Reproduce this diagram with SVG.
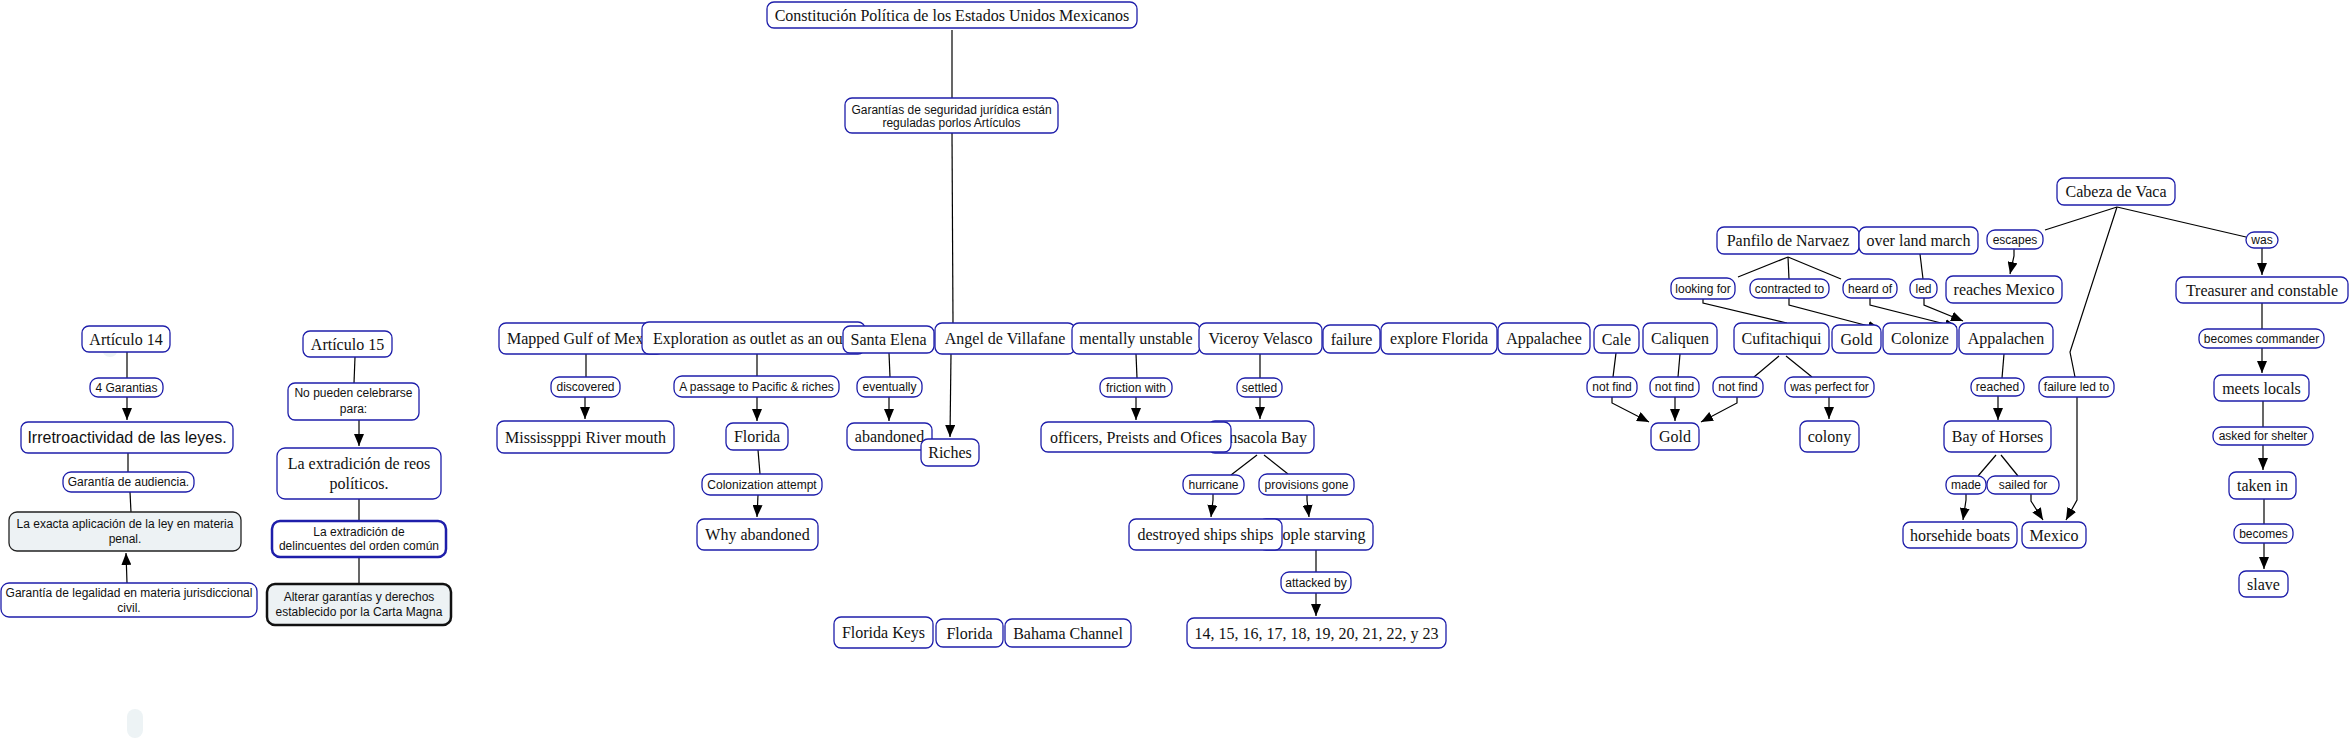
<svg xmlns="http://www.w3.org/2000/svg" width="2351" height="740" viewBox="0 0 2351 740">
<defs>
<marker id="ah" viewBox="0 0 12 10" refX="12" refY="5" markerWidth="12" markerHeight="10" markerUnits="userSpaceOnUse" orient="auto">
<path d="M0,0 L12,5 L0,10 z" fill="#000"/>
</marker>
<style>
.n rect{fill:#fff;stroke:#1e1eaa;stroke-width:1.3}
.l rect{fill:#fff;stroke:#1e1eaa;stroke-width:1.3}
.n text{font-family:"Liberation Serif","Times New Roman",serif;font-size:16px;fill:#111;text-anchor:middle}
.s text{font-family:"Liberation Sans",Arial,sans-serif;font-size:12px;fill:#111;text-anchor:middle}
.l text{font-family:"Liberation Sans",Arial,sans-serif;font-size:12px;fill:#111;text-anchor:middle}
.big text{font-size:16px}
.grey rect{fill:#edf2f4;stroke:#222}
.thickb rect{stroke-width:2.5}
.thickk rect{fill:#edf2f4;stroke:#111;stroke-width:2.5}
#connectors path{fill:none;stroke:#000;stroke-width:1.2}
#connectors path.a{marker-end:url(#ah)}
.faint{fill:#edf3f5;stroke:none}
</style>
</defs>
<rect width="2351" height="740" fill="#fff"/>

<g id="connectors">
<path d="M952,30 L952,98"/>
<path d="M952,133 L953,323"/>
<path class="a" d="M951,354 L950,437"/>
<path d="M127,352 L127,378"/>
<path class="a" d="M127,397 L127,420"/>
<path d="M128,453 L128,472"/>
<path d="M130,492 L131,512"/>
<path class="a" d="M127,583 L126,553"/>
<path d="M355,357 L354,383"/>
<path class="a" d="M359,420 L359,446"/>
<path d="M359,499 L359,521"/>
<path d="M359,557 L359,584"/>
<path d="M586,354 L586,377"/>
<path class="a" d="M585,397 L585,419"/>
<path d="M757,354 L757,376"/>
<path class="a" d="M757,397 L757,421"/>
<path d="M758,450 L760,474"/>
<path class="a" d="M758,495 L757,517"/>
<path d="M889,353 L890,377"/>
<path class="a" d="M889,397 L889,421"/>
<path d="M1136,354 L1137,378"/>
<path class="a" d="M1136,397 L1136,420"/>
<path d="M1260,354 L1260,378"/>
<path class="a" d="M1260,397 L1260,419"/>
<path d="M1257,455 L1231,475"/>
<path d="M1264,455 L1288,474"/>
<path class="a" d="M1213,494 L1213,500 L1211,517"/>
<path class="a" d="M1307,495 L1307,500 L1309,517"/>
<path d="M1316,550 L1316,572"/>
<path class="a" d="M1316,593 L1316,616"/>
<path d="M1616,353 L1613,377"/>
<path d="M1680,354 L1678,377"/>
<path d="M1779,356 L1754,377"/>
<path d="M1786,356 L1812,377"/>
<path class="a" d="M1612,397 L1612,403 L1649,422"/>
<path class="a" d="M1675,397 L1675,421"/>
<path class="a" d="M1737,397 L1737,403 L1701,422"/>
<path class="a" d="M1829,397 L1829,419"/>
<path d="M1788,257 L1738,277"/>
<path d="M1788,257 L1789,279"/>
<path d="M1788,257 L1841,279"/>
<path d="M1703,299 L1703,303 L1787,323"/>
<path class="a" d="M1789,298 L1789,305 L1880,329"/>
<path class="a" d="M1870,298 L1870,305 L1957,327"/>
<path class="a" d="M1924,298 L1924,305 L1963,321"/>
<path d="M1920,254 L1923,279"/>
<path d="M2004,354 L2002,378"/>
<path class="a" d="M1998,396 L1998,420"/>
<path d="M1996,455 L1978,476"/>
<path d="M2001,455 L2018,476"/>
<path class="a" d="M1966,494 L1966,500 L1963,520"/>
<path class="a" d="M2031,494 L2031,501 L2043,520"/>
<path class="a" d="M2077,397 L2077,500 L2066,520"/>
<path d="M2117,207 L2045,230"/>
<path d="M2117,207 L2070,352 L2075,377"/>
<path d="M2117,207 L2246,237"/>
<path class="a" d="M2014,249 L2014,256 L2010,274"/>
<path class="a" d="M2262,248 L2262,275"/>
<path d="M2262,303 L2262,329"/>
<path class="a" d="M2262,348 L2262,373"/>
<path d="M2263,401 L2263,427"/>
<path class="a" d="M2263,445 L2263,470"/>
<path d="M2264,499 L2264,524"/>
<path class="a" d="M2264,543 L2264,569"/>
</g>

<g id="faint-1"><circle class="faint" cx="110" cy="349" r="8"/></g>
<g id="faint-2"><rect class="faint" x="127" y="709" width="16" height="29" rx="8"/></g>

<g id="constitucion" class="n"><rect x="767" y="2" width="370" height="26" rx="7"/><text x="952" y="20.5">Constitución Política de los Estados Unidos Mexicanos</text></g>
<g id="garantias-seguridad" class="n s"><rect x="845" y="98" width="213" height="35" rx="7"/><text x="951.5" y="114">Garantías de seguridad jurídica están</text><text x="951.5" y="127">reguladas porlos Artículos</text></g>

<g id="articulo14" class="n"><rect x="82" y="326" width="88" height="26" rx="7"/><text x="126" y="344.5">Artículo 14</text></g>
<g id="l-4garantias" class="l"><rect x="90" y="378" width="73" height="19" rx="8"/><text x="126.5" y="391.8">4 Garantias</text></g>
<g id="irretroactividad" class="n s big"><rect x="21" y="422" width="212" height="31" rx="7"/><text x="127" y="443.2">Irretroactividad de las leyes.</text></g>
<g id="audiencia" class="l"><rect x="63" y="472" width="131" height="20" rx="8"/><text x="128.5" y="486.3">Garantía de audiencia.</text></g>
<g id="exacta" class="n s grey"><rect x="9" y="512" width="232" height="39" rx="8"/><text x="125" y="528">La exacta aplicación de la ley en materia</text><text x="125" y="543">penal.</text></g>
<g id="legalidad" class="n s"><rect x="1" y="583" width="256" height="34" rx="8"/><text x="129" y="597">Garantía de legalidad en materia jurisdiccional</text><text x="129" y="612">civil.</text></g>

<g id="articulo15" class="n"><rect x="303" y="331" width="89" height="26" rx="7"/><text x="347.5" y="349.5">Artículo 15</text></g>
<g id="no-pueden" class="n s"><rect x="288" y="383" width="131" height="37" rx="7"/><text x="353.5" y="397">No pueden celebrarse</text><text x="353.5" y="413">para:</text></g>
<g id="reos" class="n"><rect x="277" y="448" width="164" height="51" rx="8"/><text x="359" y="468.5">La extradición de reos</text><text x="359" y="488.5">políticos.</text></g>
<g id="delincuentes" class="n s thickb"><rect x="272" y="521" width="174" height="36" rx="8"/><text x="359" y="536">La extradición de</text><text x="359" y="550">delincuentes del orden común</text></g>
<g id="alterar" class="n s thickk"><rect x="267" y="584" width="184" height="41" rx="8"/><text x="359" y="601">Alterar garantías y derechos</text><text x="359" y="616">establecido por la Carta Magna</text></g>

<g id="mapped" class="n"><rect x="499" y="323" width="165" height="31" rx="7"/><text x="507" y="344" style="text-anchor:start">Mapped Gulf of Mex</text></g>
<g id="exploration" class="n"><rect x="642" y="322" width="223" height="32" rx="7"/><text x="653" y="344" style="text-anchor:start">Exploration as outlet as an out</text></g>
<g id="santa-elena" class="n"><rect x="843" y="326" width="91" height="27" rx="7"/><text x="888.5" y="345">Santa Elena</text></g>
<g id="angel" class="n"><rect x="935" y="323" width="140" height="31" rx="7"/><text x="1005" y="344">Angel de Villafane</text></g>
<g id="mentally" class="n"><rect x="1072" y="323" width="128" height="31" rx="7"/><text x="1136" y="344">mentally unstable</text></g>
<g id="viceroy" class="n"><rect x="1199" y="323" width="123" height="31" rx="7"/><text x="1260.5" y="344">Viceroy Velasco</text></g>
<g id="failure" class="n"><rect x="1323" y="325" width="57" height="28" rx="7"/><text x="1351.5" y="344.5">failure</text></g>
<g id="explore-florida" class="n"><rect x="1381" y="323" width="116" height="31" rx="7"/><text x="1439" y="344">explore Florida</text></g>
<g id="appalachee" class="n"><rect x="1498" y="323" width="92" height="31" rx="7"/><text x="1544" y="344">Appalachee</text></g>
<g id="cale" class="n"><rect x="1594" y="325" width="45" height="28" rx="7"/><text x="1616.5" y="344.5">Cale</text></g>
<g id="caliquen" class="n"><rect x="1643" y="323" width="74" height="31" rx="7"/><text x="1680" y="344">Caliquen</text></g>
<g id="cufitachiqui" class="n"><rect x="1734" y="323" width="95" height="31" rx="7"/><text x="1781.5" y="344">Cufitachiqui</text></g>
<g id="gold-top" class="n"><rect x="1832" y="325" width="49" height="28" rx="7"/><text x="1856.5" y="344.5">Gold</text></g>
<g id="colonize" class="n"><rect x="1883" y="323" width="74" height="31" rx="7"/><text x="1920" y="344">Colonize</text></g>
<g id="appalachen" class="n"><rect x="1959" y="323" width="94" height="31" rx="7"/><text x="2006" y="344">Appalachen</text></g>

<g id="panfilo" class="n"><rect x="1717" y="227" width="142" height="27" rx="7"/><text x="1788" y="246">Panfilo de Narvaez</text></g>
<g id="overland" class="n"><rect x="1859" y="227" width="119" height="27" rx="7"/><text x="1918.5" y="246">over land march</text></g>
<g id="reaches-mexico" class="n"><rect x="1946" y="276" width="116" height="27" rx="7"/><text x="2004" y="295">reaches Mexico</text></g>
<g id="cabeza" class="n"><rect x="2057" y="178" width="118" height="27" rx="7"/><text x="2116" y="197">Cabeza de Vaca</text></g>
<g id="treasurer" class="n"><rect x="2176" y="277" width="172" height="26" rx="7"/><text x="2262" y="295.5">Treasurer and constable</text></g>
<g id="meets-locals" class="n"><rect x="2214" y="375" width="95" height="26" rx="7"/><text x="2261.5" y="393.5">meets locals</text></g>
<g id="taken-in" class="n"><rect x="2229" y="472" width="67" height="27" rx="7"/><text x="2262.5" y="491">taken in</text></g>
<g id="slave" class="n"><rect x="2239" y="571" width="49" height="26" rx="7"/><text x="2263.5" y="589.5">slave</text></g>

<g id="mississippi" class="n"><rect x="497" y="421" width="177" height="32" rx="7"/><text x="585.5" y="442.5">Mississpppi River mouth</text></g>
<g id="florida-mid" class="n"><rect x="726" y="423" width="62" height="27" rx="7"/><text x="757" y="442">Florida</text></g>
<g id="why-abandoned" class="n"><rect x="697" y="519" width="121" height="31" rx="7"/><text x="757.5" y="540">Why abandoned</text></g>
<g id="abandoned" class="n"><rect x="847" y="423" width="85" height="27" rx="7"/><text x="889.5" y="442">abandoned</text></g>
<g id="riches" class="n"><rect x="921" y="439" width="58" height="27" rx="7"/><text x="950" y="458">Riches</text></g>
<g id="pensacola" class="n"><rect x="1208" y="421" width="106" height="32" rx="7"/><text x="1260" y="442.5">Pensacola Bay</text></g>
<g id="officers" class="n"><rect x="1041" y="422" width="190" height="30" rx="7"/><text x="1136" y="442.5">officers, Preists and Ofices</text></g>
<g id="starving" class="n"><rect x="1259" y="519" width="114" height="31" rx="7"/><text x="1316" y="540">People starving</text></g>
<g id="destroyed" class="n"><rect x="1129" y="519" width="153" height="31" rx="7"/><text x="1205.5" y="540">destroyed ships ships</text></g>
<g id="numbers" class="n"><rect x="1187" y="618" width="259" height="30" rx="7"/><text x="1316.5" y="638.5">14, 15, 16, 17, 18, 19, 20, 21, 22, y 23</text></g>
<g id="florida-keys" class="n"><rect x="834" y="617" width="99" height="31" rx="7"/><text x="883.5" y="638">Florida Keys</text></g>
<g id="florida-bottom" class="n"><rect x="936" y="619" width="67" height="28" rx="7"/><text x="969.5" y="638.5">Florida</text></g>
<g id="bahama" class="n"><rect x="1005" y="619" width="126" height="28" rx="7"/><text x="1068" y="638.5">Bahama Channel</text></g>
<g id="gold-bottom" class="n"><rect x="1651" y="423" width="48" height="27" rx="7"/><text x="1675" y="442">Gold</text></g>
<g id="colony" class="n"><rect x="1800" y="421" width="59" height="31" rx="7"/><text x="1829.5" y="442">colony</text></g>
<g id="bay-of-horses" class="n"><rect x="1944" y="421" width="107" height="31" rx="7"/><text x="1997.5" y="442">Bay of Horses</text></g>
<g id="horsehide" class="n"><rect x="1903" y="522" width="114" height="26" rx="7"/><text x="1960" y="540.5">horsehide boats</text></g>
<g id="mexico" class="n"><rect x="2022" y="522" width="64" height="26" rx="7"/><text x="2054" y="540.5">Mexico</text></g>

<g id="l-discovered" class="l"><rect x="551" y="377" width="69" height="20" rx="8"/><text x="585.5" y="391.3">discovered</text></g>
<g id="l-passage" class="l"><rect x="674" y="376" width="165" height="21" rx="8"/><text x="756.5" y="390.8">A passage to Pacific &amp; riches</text></g>
<g id="l-colonization" class="l"><rect x="702" y="474" width="120" height="21" rx="8"/><text x="762" y="488.8">Colonization attempt</text></g>
<g id="l-eventually" class="l"><rect x="857" y="377" width="65" height="20" rx="8"/><text x="889.5" y="391.3">eventually</text></g>
<g id="l-friction" class="l"><rect x="1100" y="378" width="72" height="19" rx="8"/><text x="1136" y="391.8">friction with</text></g>
<g id="l-settled" class="l"><rect x="1237" y="378" width="45" height="19" rx="8"/><text x="1259.5" y="391.8">settled</text></g>
<g id="l-hurricane" class="l"><rect x="1183" y="475" width="61" height="19" rx="8"/><text x="1213.5" y="488.8">hurricane</text></g>
<g id="l-provisions" class="l"><rect x="1259" y="474" width="95" height="21" rx="8"/><text x="1306.5" y="488.8">provisions gone</text></g>
<g id="l-attacked" class="l"><rect x="1281" y="572" width="70" height="21" rx="8"/><text x="1316" y="586.8">attacked by</text></g>
<g id="l-notfind1" class="l"><rect x="1587" y="377" width="50" height="20" rx="8"/><text x="1612" y="391.3">not find</text></g>
<g id="l-notfind2" class="l"><rect x="1650" y="377" width="49" height="20" rx="8"/><text x="1674.5" y="391.3">not find</text></g>
<g id="l-notfind3" class="l"><rect x="1713" y="377" width="50" height="20" rx="8"/><text x="1738" y="391.3">not find</text></g>
<g id="l-perfect" class="l"><rect x="1785" y="377" width="89" height="20" rx="8"/><text x="1829.5" y="391.3">was perfect for</text></g>
<g id="l-looking" class="l"><rect x="1671" y="278" width="64" height="21" rx="8"/><text x="1703" y="292.8">looking for</text></g>
<g id="l-contracted" class="l"><rect x="1750" y="279" width="79" height="19" rx="8"/><text x="1789.5" y="292.8">contracted to</text></g>
<g id="l-heard" class="l"><rect x="1843" y="279" width="54" height="19" rx="8"/><text x="1870" y="292.8">heard of</text></g>
<g id="l-led" class="l"><rect x="1910" y="279" width="27" height="19" rx="8"/><text x="1923.5" y="292.8">led</text></g>
<g id="l-escapes" class="l"><rect x="1987" y="230" width="56" height="19" rx="8"/><text x="2015" y="243.8">escapes</text></g>
<g id="l-was" class="l"><rect x="2246" y="232" width="32" height="16" rx="8"/><text x="2262" y="244.3">was</text></g>
<g id="l-reached" class="l"><rect x="1971" y="378" width="53" height="18" rx="8"/><text x="1997.5" y="391.3">reached</text></g>
<g id="l-failureled" class="l"><rect x="2039" y="377" width="75" height="20" rx="8"/><text x="2076.5" y="391.3">failure led to</text></g>
<g id="l-made" class="l"><rect x="1946" y="476" width="40" height="18" rx="8"/><text x="1966" y="489.3">made</text></g>
<g id="l-sailed" class="l"><rect x="1987" y="476" width="72" height="18" rx="8"/><text x="2023" y="489.3">sailed for</text></g>
<g id="l-commander" class="l"><rect x="2199" y="329" width="125" height="19" rx="8"/><text x="2261.5" y="342.8">becomes commander</text></g>
<g id="l-asked" class="l"><rect x="2213" y="427" width="100" height="18" rx="8"/><text x="2263" y="440.3">asked for shelter</text></g>
<g id="l-becomes" class="l"><rect x="2234" y="524" width="59" height="19" rx="8"/><text x="2263.5" y="537.8">becomes</text></g>
</svg>
